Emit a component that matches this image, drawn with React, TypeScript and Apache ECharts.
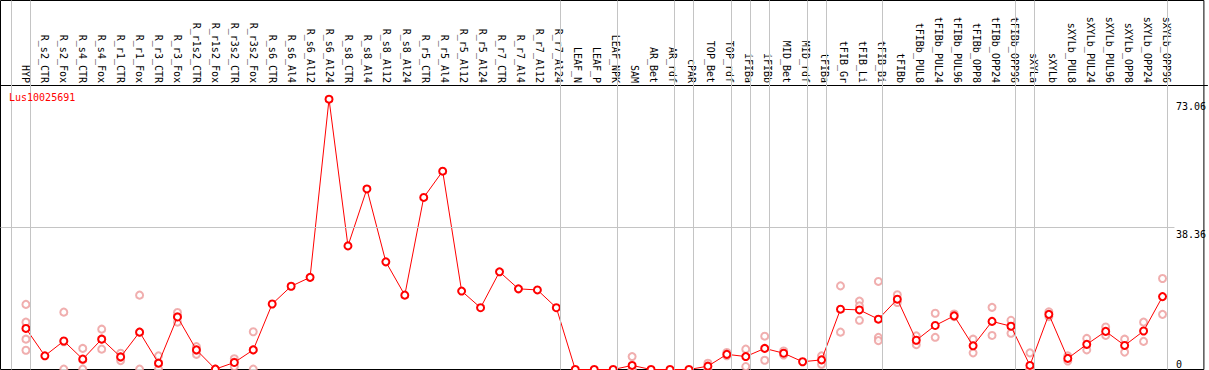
import React, { useEffect, useRef } from "react";
import * as echarts from "echarts";

const FONT = "DejaVu Sans Mono";

const categories = [
  "HYP", "R_s2_CTR", "R_s2_Fox", "R_s4_CTR", "R_s4_Fox", "R_r1_CTR", "R_r1_Fox", "R_r3_CTR", "R_r3_Fox",
  "R_r1s2_CTR", "R_r1s2_Fox", "R_r3s2_CTR", "R_r3s2_Fox", "R_s6_CTR", "R_s6_Al4", "R_s6_Al12", "R_s6_Al24",
  "R_s8_CTR", "R_s8_Al4", "R_s8_Al12", "R_s8_Al24", "R_r5_CTR", "R_r5_Al4", "R_r5_Al12", "R_r5_Al24",
  "R_r7_CTR", "R_r7_Al4", "R_r7_Al12", "R_r7_Al24", "LEAF_N", "LEAF_P", "LEAF_NPK", "SAM", "AR_Bet", "AR_rdf",
  "cPAR", "TOP_Bet", "TOP_rdf", "iFIBa", "iFIBb", "MID_Bet", "MID_rdf", "tFIBa", "tFIB_Gr", "tFIB_Li", "tFIB_Bi",
  "tFIBb", "tFIBb_PUL8", "tFIBb_PUL24", "tFIBb_PUL96", "tFIBb_OPP8", "tFIBb_OPP24", "tFIBb_OPP96", "sXYLa",
  "sXYLb", "sXYLb_PUL8", "sXYLb_PUL24", "sXYLb_PUL96", "sXYLb_OPP8", "sXYLb_OPP24", "sXYLb_OPP96",
];

const meanValues = [
  11.1, 3.7, 7.7, 2.8, 8.2, 3.4, 10.1, 1.7, 14.2, 5.3,
  0.1, 1.9, 5.3, 17.7, 22.5, 24.9, 73.06, 33.4, 48.8, 29.1,
  20.1, 46.5, 53.6, 21.2, 16.7, 26.4, 21.8, 21.5, 16.7, 0,
  0, 0, 1.1, 0, 0, 0, 0.9, 4.1, 3.5, 5.7,
  4.4, 2.1, 2.6, 16.3, 16.1, 13.6, 19.0, 7.9, 11.9, 14.5,
  6.4, 13.0, 11.7, 1.1, 14.9, 3.0, 6.8, 10.3, 6.5, 10.4, 19.7,
];

const replicates: number[][] = [
  [17.6, 12.8, 8.2, 5.2], [], [15.5, 0.1, 7.5], [5.7, 0.1, 2.6], [10.9, 5.5, 8.2],
  [4.4, 2.4, 3.3], [20.1, 0.1, 10.1], [3.7, 0.1, 1.7], [15.4, 12.8, 14.3], [6.2, 4.1, 5.2],
  [0.1], [2.9, 0.8, 2.0], [10.2, 0.1, 5.3], [], [], [], [], [], [], [],
  [], [], [], [], [], [], [], [], [], [],
  [], [], [3.5, 0, 0], [], [], [], [1.7, 0.1], [4.6, 3.7], [5.5, 0.8], [9.0, 2.5],
  [5.0, 3.9], [], [3.7, 1.4], [22.6, 10.1], [18.5, 17.2, 13.3], [23.8, 8.7, 7.8], [20.2, 18.1], [9.1, 6.7], [15.2, 8.7], [15.0, 14.3],
  [8.2, 4.5], [16.8, 9.2], [13.3, 9.8], [4.5, 0, 0], [15.6, 14.3], [3.7, 2.3], [8.4, 5.3], [11.5, 9.2], [8.2, 4.7], [12.8, 7.6],
  [24.6, 14.9],
];

// index of the last category of each group (separator drawn after it)
const groupEnds = [-1, 0, 28, 31, 34, 35, 37, 38, 39, 41, 42, 45, 52, 53, 60];

const yTopLabels = [73.06, 38.36];
const yBottomLabels = [0];
const thresholdValue = 38.36;
const seriesName = "Lus10025691";

const X_MIN = -1.342;
const X_MAX = 62.184;
const Y_MAX = 99.73;
const SEP_OFFSET = 0.226;
const THRESHOLD_END = 60.63;

export default function App() {
  const ref = useRef<HTMLDivElement>(null);

  useEffect(() => {
    document.body.style.margin = "0";
    if (!ref.current) return;
    const chart = echarts.init(ref.current, null, { renderer: "svg" });

    const repData: number[][] = [];
    replicates.forEach((arr, i) => arr.forEach((v) => repData.push([i, v])));
    const meanData = meanValues.map((v, i) => [i, v]);

    const labelBase = { fontSize: 10, fontFamily: FONT, color: "#000" };

    const option: any = {
      animation: false,
      backgroundColor: "#fff",
      textStyle: { fontFamily: FONT },
      title: {
        text: seriesName,
        left: 9,
        top: 92,
        padding: 0,
        textStyle: { color: "#ff0000", fontSize: 10, fontWeight: "normal", fontFamily: FONT },
      },
      grid: [
        { left: 0.5, top: 0.5, width: 1207, height: 369, show: true, borderColor: "#000", borderWidth: 1, backgroundColor: "transparent" },
        { left: 0.5, top: 85, width: 1207, height: 284.5 },
      ],
      xAxis: [
        { gridIndex: 0, type: "value", min: X_MIN, max: X_MAX, show: false },
        {
          gridIndex: 1,
          type: "value",
          min: X_MIN,
          max: X_MAX,
          position: "top",
          axisLine: { show: true, onZero: false, lineStyle: { color: "#000", width: 1 } },
          axisTick: { show: false },
          splitLine: { show: false },
          axisLabel: {
            ...labelBase,
            customValues: categories.map((_, i) => i),
            rotate: 90,
            margin: 2,
            formatter: (v: number) => categories[Math.round(v)] ?? "",
          },
        },
      ],
      yAxis: [
        {
          gridIndex: 0,
          type: "value",
          min: 0,
          max: Y_MAX,
          position: "right",
          axisLine: { show: false },
          axisTick: { show: false },
          splitLine: { show: false },
          axisLabel: {
            ...labelBase,
            inside: true,
            customValues: yTopLabels,
            align: "left",
            verticalAlign: "top",
            margin: 28,
            padding: [2, 0, 0, 0],
            formatter: (v: number) => String(v),
          },
        },
        {
          gridIndex: 0,
          type: "value",
          min: 0,
          max: Y_MAX,
          position: "right",
          axisLine: { show: false },
          axisTick: { show: false },
          splitLine: { show: false },
          axisLabel: {
            ...labelBase,
            inside: true,
            customValues: yBottomLabels,
            align: "left",
            verticalAlign: "bottom",
            margin: 28,
            formatter: (v: number) => String(v),
          },
        },
        { gridIndex: 1, type: "value", min: 0, max: 1, show: false },
      ],
      series: [
        {
          type: "scatter",
          xAxisIndex: 0,
          yAxisIndex: 0,
          data: repData,
          symbol: "emptyCircle",
          symbolSize: 7,
          itemStyle: { color: "#ec9a9a", borderWidth: 1 },
          z: 2,
          silent: true,
          markLine: {
            silent: true,
            symbol: ["none", "none"],
            label: { show: false },
            lineStyle: { color: "#c4c4c4", width: 1, type: "solid" },
            data: [
              ...groupEnds.map((k) => ({ xAxis: k + SEP_OFFSET })),
              [{ coord: [X_MIN, thresholdValue] }, { coord: [THRESHOLD_END, thresholdValue] }],
            ],
          },
        },
        {
          type: "line",
          name: seriesName,
          xAxisIndex: 0,
          yAxisIndex: 0,
          data: meanData,
          symbol: "emptyCircle",
          symbolSize: 7,
          lineStyle: { color: "#ff0000", width: 1 },
          itemStyle: { color: "#ff0000", borderWidth: 1.3 },
          z: 3,
          silent: true,
        },
      ],
    };

    chart.setOption(option);
    return () => chart.dispose();
  }, []);

  return <div ref={ref} style={{ width: 1209, height: 370 }} />;
}
